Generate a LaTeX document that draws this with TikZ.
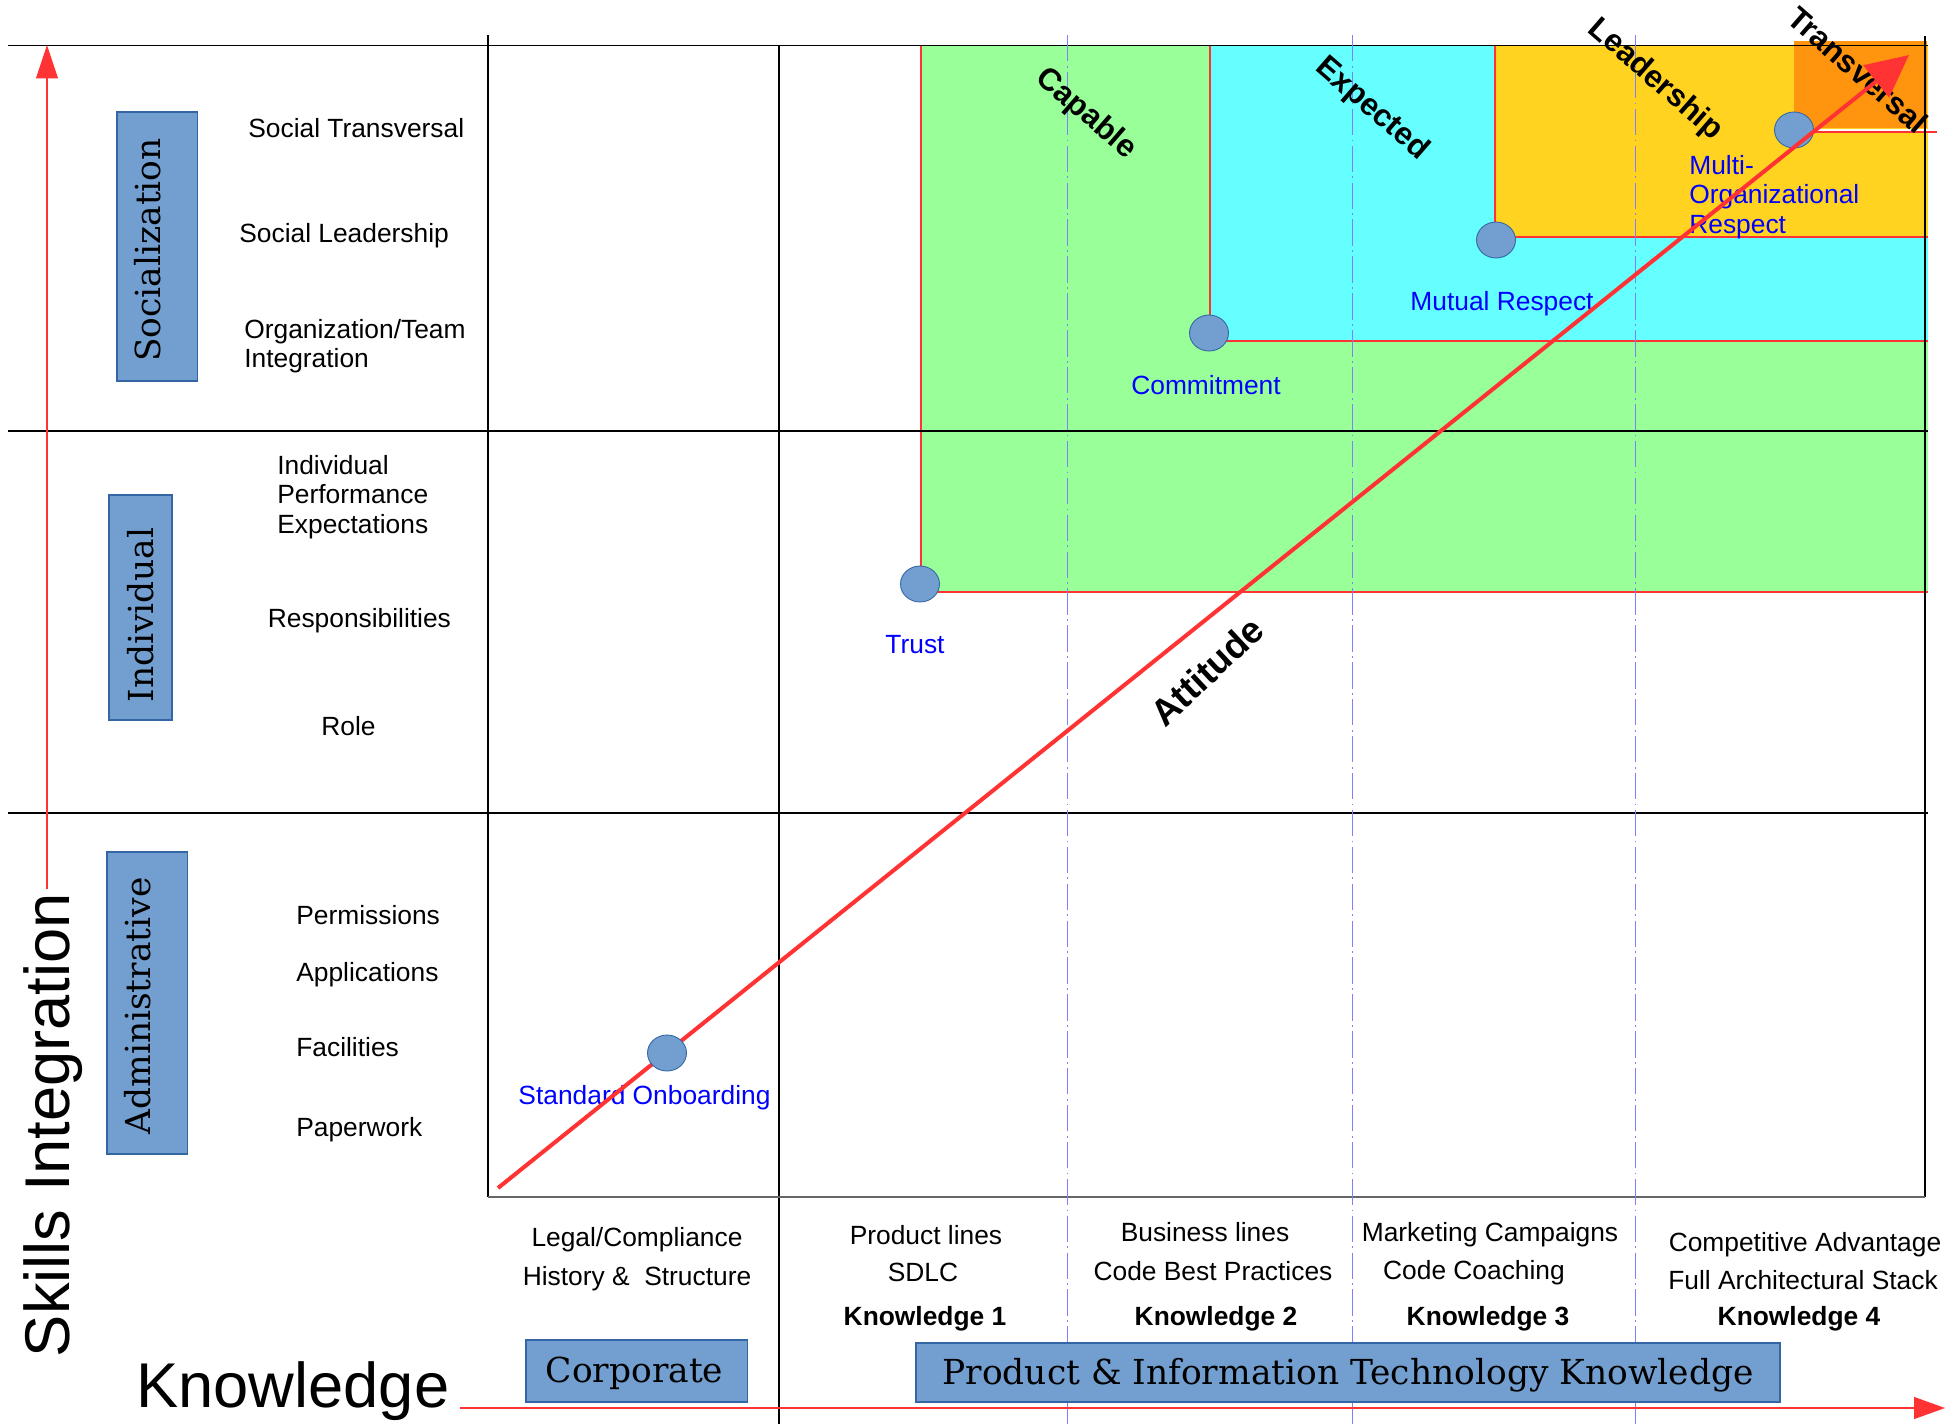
\documentclass[tikz,border=0pt]{standalone}
\usepackage{fontspec}
\setmainfont{Liberation Sans}
\newfontfamily\boxfont{DejaVu Serif}
\usetikzlibrary{arrows.meta,shapes.geometric}
\definecolor{boxblue}{HTML}{729FCF}
\definecolor{boxedge}{HTML}{3465A4}
\definecolor{lgreen}{HTML}{99FF99}
\definecolor{lcyan}{HTML}{66FFFF}
\definecolor{lyellow}{HTML}{FFD320}
\definecolor{lorange}{HTML}{FF950E}
\definecolor{axisred}{HTML}{FF3333}
\definecolor{guideblue}{HTML}{7F7FFF}
\begin{document}
\begin{tikzpicture}[x=0.02cm,y=-0.02cm,
  rowline/.style={black,line width=0.75pt},
  redrim/.style={axisred,line width=0.6pt},
  guide/.style={guideblue,line width=0.55pt,dash pattern=on 15pt off 2.5pt on 1pt off 2.5pt},
  catbox/.style={fill=boxblue,draw=boxedge,line width=0.6pt},
  cattext/.style={font=\boxfont\fontsize{19.6}{23}\selectfont,inner sep=0pt,anchor=base},
  item/.style={font=\fontsize{15}{16.8}\selectfont,inner sep=0pt,anchor=base west},
  multi/.style={font=\fontsize{15}{16.8}\selectfont,inner sep=0pt,anchor=west,align=left},
  col/.style={font=\fontsize{15}{16.8}\selectfont,inner sep=0pt,anchor=base},
  knw/.style={col,font=\fontsize{15}{16.8}\selectfont\bfseries},
  milestone/.style={col,text=blue},
  level/.style={font=\fontsize{17.8}{20}\selectfont\bfseries,inner sep=0pt,rotate=-41},
  dot/.style={ellipse,fill=boxblue,draw=boxedge,line width=0.5pt,minimum width=0.78cm,minimum height=0.72cm,inner sep=0pt},
  axis/.style={axisred,line width=0.6pt},
  trend/.style={axisred,line width=2.3pt}]
\useasboundingbox (0,0) rectangle (1958,1424);

\fill[lgreen] (921,45.5) rectangle (1928,592);
\fill[lcyan] (1210,45.5) rectangle (1928,341);
\fill[lyellow] (1495,45.5) rectangle (1928,237);
\fill[lorange] (1794,41) rectangle (1927,128);
\draw[white,line width=1.2pt] (1794,130) -- (1928,130);
\draw[redrim] (921,45.5) -- (921,592) -- (1928,592);
\draw[redrim] (1210,45.5) -- (1210,341) -- (1928,341);
\draw[redrim] (1495,45.5) -- (1495,237) -- (1928,237);
\draw[redrim] (1815,132) -- (1937,132);

\draw[rowline] (8,45.5) -- (1928,45.5);
\draw[rowline] (8,431) -- (1928,431);
\draw[rowline] (8,813) -- (1928,813);
\draw[rowline] (488,35) -- (488,1197);
\draw[rowline] (779,45.5) -- (779,1424);
\draw[rowline] (1925,36) -- (1925,1197);
\draw[black!60,line width=1pt] (488,1197) -- (1925,1197);
\foreach \gx in {1067,1352,1635}
  \draw[guide] (\gx,35) -- (\gx,1424);

\filldraw[catbox] (117,112) rectangle (197.5,381);
\filldraw[catbox] (109,495) rectangle (172,720);
\filldraw[catbox] (107,852) rectangle (187.5,1154);
\filldraw[catbox] (526,1340) rectangle (747.5,1402);
\filldraw[catbox] (916,1343) rectangle (1780,1402);
\node[cattext,rotate=90] (soc) at (160,250) {Socialization};
\node[cattext,rotate=90] (ind) at (153,615) {Individual};
\node[cattext,rotate=90] (adm) at (150,1006) {Administrative};
\node[cattext] (corp) at (634.5,1382) {Corporate};
\node[cattext] (prod) at (1348,1384) {Product \& Information Technology Knowledge};

\node[item] (soctr) at (248,137) {Social Transversal};
\node[item] (socld) at (239,242) {Social Leadership};
\node[multi] (orgteam) at (244,346) {Organization/Team\\Integration};
\node[multi] (perf) at (277,497) {Individual\\Performance\\Expectations};
\node[item] (resp) at (267.5,627) {Responsibilities};
\node[item] (role) at (321,735) {Role};
\node[item] (perm) at (296,924) {Permissions};
\node[item] (appl) at (296,981) {Applications};
\node[item] (facil) at (296,1056) {Facilities};
\node[item] (paper) at (296,1136) {Paperwork};

\node[col] (legal) at (637,1246) {Legal/Compliance};
\node[col] (hist) at (637,1285) {History \&\ \ Structure};
\node[col] (prodl) at (926,1244) {Product lines};
\node[col] (sdlc) at (923,1281) {SDLC};
\node[knw] (k1) at (925,1325) {Knowledge 1};
\node[col] (busl) at (1205,1241) {Business lines};
\node[col] (cbp) at (1213,1280) {Code Best Practices};
\node[knw] (k2) at (1216,1325) {Knowledge 2};
\node[col] (mkt) at (1490,1241) {Marketing Campaigns};
\node[col] (coach) at (1474,1279) {Code Coaching};
\node[knw] (k3) at (1488,1325) {Knowledge 3};
\node[col] (compet) at (1805,1251) {Competitive Advantage};
\node[col] (stack) at (1803,1289) {Full Architectural Stack};
\node[knw] (k4) at (1799,1325) {Knowledge 4};

\node[level] (capable) at (1086,114) {Capable};
\node[level] (expected) at (1372,109) {Expected};
\node[level] (leader) at (1655,80) {Leadership};
\node[level] (transv) at (1858,70) {Transversal};
\node[font=\fontsize{21}{24}\selectfont\bfseries,inner sep=0pt,rotate=43] (attitude) at (1207,671) {Attitude};

\node[font=\fontsize{36}{40}\selectfont,inner sep=0pt,anchor=base,rotate=90] (skills) at (69,1125) {Skills Integration};
\node[font=\fontsize{36}{40}\selectfont,inner sep=0pt,anchor=base west] (knowledge) at (136,1407) {Knowledge};

\node[dot] (trust) at (920,584) {};
\node[dot] (commit) at (1209,333) {};
\node[dot] (mutual) at (1496,240) {};
\node[dot] (multiorg) at (1794,130) {};
\node[milestone] (onbtext) at (644.5,1104) {Standard Onboarding};
\node[milestone] (trusttext) at (915,653) {Trust};
\node[milestone] (committext) at (1206,394) {Commitment};
\node[milestone] (mutualtext) at (1502,310) {Mutual Respect};
\node[multi,text=blue] (multitext) at (1689,197) {Multi-\\Organizational\\Respect};

\coordinate (yfoot) at (47,889);
\coordinate (ytip) at (47,45);
\coordinate (xfoot) at (460,1408);
\coordinate (xtip) at (1945,1408);
\coordinate (attfoot) at (498,1188);
\coordinate (atttip) at (1909,55);
\draw[axis,-{Triangle[length=19pt,width=12.5pt]}] (yfoot) -- (ytip);
\draw[axis,-{Triangle[length=17.6pt,width=12.5pt]}] (xfoot) -- (xtip);
\draw[trend,-{Triangle[length=24pt,width=23pt]}] (attfoot) -- (atttip);
\node[dot] (onb) at (667,1053) {};
\end{tikzpicture}
\end{document}
